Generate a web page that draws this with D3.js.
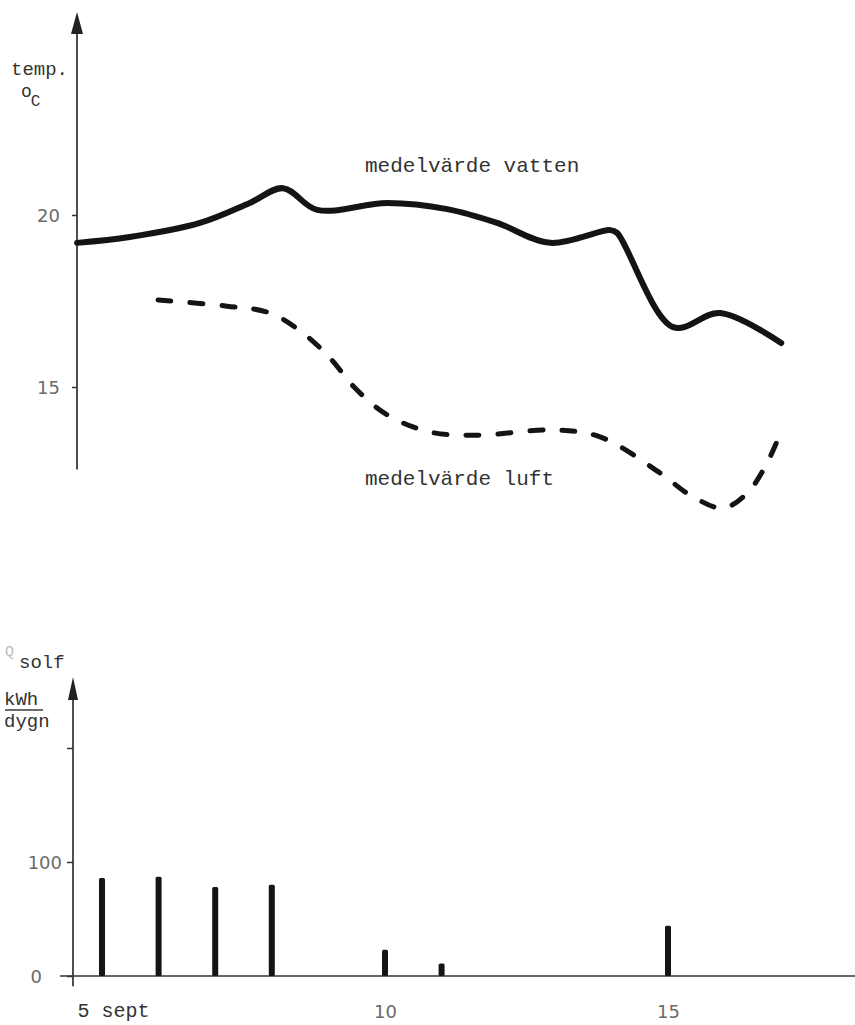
<!DOCTYPE html>
<html>
<head>
<meta charset="utf-8">
<script src="https://cdn.jsdelivr.net/npm/d3@7/dist/d3.min.js"></script>
<style>
  html, body { margin: 0; padding: 0; background: #ffffff; }
  svg { display: block; }
  .tw { font-family: "Liberation Mono", "DejaVu Sans Mono", monospace; fill: #333; }
  .num { font-family: "DejaVu Sans", sans-serif; fill: #6a6a6a; }
</style>
</head>
<body>
<svg id="chart" width="855" height="1025"></svg>
<script>
// ---- data ----
// water mean temperature (day of September, °C)
const waterDays  = [4.56, 5.49, 6.73, 7.61, 8.2, 8.8, 10.04, 11.1, 11.98, 12.92, 13.98, 14.1, 15.09, 15.92, 17.0];
const waterTemps = [19.19, 19.36, 19.77, 20.35, 20.78, 20.15, 20.35, 20.17, 19.77, 19.19, 19.56, 19.48, 16.74, 17.15, 16.28];
// air mean temperature
const airDays  = [5.99, 7.21, 7.97, 8.55, 9.03, 9.47, 10.04, 10.8, 11.63, 12.97, 13.8, 14.86, 15.39, 15.97, 16.4, 16.75, 17.03];
const airTemps = [17.53, 17.35, 17.15, 16.57, 15.84, 14.97, 14.19, 13.69, 13.6, 13.75, 13.55, 12.5, 11.86, 11.48, 11.92, 12.79, 13.84];
// solar radiation kWh per day
const sunDays   = [5, 6, 7, 8, 10, 11, 15];
const sunValues = [86, 87, 78, 80, 23, 11, 44];
// tick labels
const tempTicks = [15, 20];
const sunTicks = [0, 100, 200];
const sunTickLabels = ["0", "100", ""];
const dayTicks = [5, 10, 15];
const dayTickLabels = ["5 sept", "10", "15"];
const seriesLabels = ["medelvärde vatten", "medelvärde luft"];

const svg = d3.select("#chart");

// ---- scales ----
const x = d3.scaleLinear().domain([5, 15]).range([102, 668]);
const yT = d3.scaleLinear().domain([15, 20]).range([387, 215]);
const yS = d3.scaleLinear().domain([0, 100]).range([976, 862]);

const axisXTop = 77;
const axisXBot = 73;

// ---- top chart axis ----
const gTop = svg.append("g");
gTop.append("line")
  .attr("x1", axisXTop).attr("x2", axisXTop)
  .attr("y1", yT(12.6)).attr("y2", 30)
  .attr("stroke", "#222").attr("stroke-width", 1.6);
gTop.append("path")
  .attr("d", `M${axisXTop},12 L${axisXTop - 6},34 L${axisXTop + 6},34 Z`)
  .attr("fill", "#222");
const yAxisTop = d3.axisLeft(yT).tickValues(tempTicks).tickSize(5).tickPadding(12)
  .tickFormat(d3.format("d"));
const gyT = gTop.append("g").attr("transform", `translate(${axisXTop},0)`).call(yAxisTop);
gyT.select(".domain").remove();
gyT.selectAll(".tick line").attr("stroke", "#333").attr("stroke-width", 1.5);
gyT.selectAll(".tick text").attr("class", "num").attr("font-size", 18).attr("dy", "0.35em");

// top axis title
gTop.append("text").attr("class", "tw").attr("x", 11).attr("y", 75)
  .attr("font-size", 19).text("temp.");
const oc = gTop.append("text").attr("class", "tw").attr("x", 21).attr("y", 97).attr("font-size", 18);
oc.append("tspan").text("o");
oc.append("tspan").attr("dy", 9).attr("font-size", 16).attr("dx", -1).text("C");

// ---- lines ----
const line = d3.line()
  .x(d => x(d[0])).y(d => yT(d[1]))
  .curve(d3.curveCatmullRom.alpha(0.5));

const waterData = waterDays.map((d, i) => [d, waterTemps[i]]);
const airData = airDays.map((d, i) => [d, airTemps[i]]);

gTop.append("path").datum(waterData)
  .attr("d", line)
  .attr("fill", "none").attr("stroke", "#141414")
  .attr("stroke-width", 6).attr("stroke-linecap", "round").attr("stroke-linejoin", "round");

gTop.append("path").datum(airData)
  .attr("d", line)
  .attr("fill", "none").attr("stroke", "#141414")
  .attr("stroke-width", 5).attr("stroke-linecap", "round")
  .attr("stroke-dasharray", "13,19");

// series labels
gTop.append("text").attr("class", "tw").attr("x", 365).attr("y", 172)
  .attr("font-size", 21).text(seriesLabels[0]);
gTop.append("text").attr("class", "tw").attr("x", 365).attr("y", 485)
  .attr("font-size", 21).text(seriesLabels[1]);

// ---- bottom chart ----
const gBot = svg.append("g");
gBot.append("line")
  .attr("x1", axisXBot).attr("x2", axisXBot)
  .attr("y1", yS(-9)).attr("y2", 695)
  .attr("stroke", "#222").attr("stroke-width", 1.6);
gBot.append("path")
  .attr("d", `M${axisXBot},677 L${axisXBot - 5},700 L${axisXBot + 5},700 Z`)
  .attr("fill", "#222");

// x baseline
gBot.append("line")
  .attr("x1", 60).attr("x2", 855)
  .attr("y1", yS(0)).attr("y2", yS(0))
  .attr("stroke", "#333").attr("stroke-width", 1.6);

const yAxisBot = d3.axisLeft(yS).tickValues(sunTicks).tickSize(6).tickPadding(5)
  .tickFormat((d, i) => sunTickLabels[i]);
const gyS = gBot.append("g").attr("transform", `translate(${axisXBot},0)`).call(yAxisBot);
gyS.select(".domain").remove();
gyS.selectAll(".tick line").attr("stroke", "#333").attr("stroke-width", 1.5);
gyS.selectAll(".tick text").attr("class", "num").attr("font-size", 18).attr("dy", "0.35em");
gyS.selectAll(".tick").filter(d => d === 0).select("text").attr("dx", -20);

// x tick labels
const xAxisBot = d3.axisBottom(x).tickValues(dayTicks).tickSize(0).tickPadding(29)
  .tickFormat((d, i) => dayTickLabels[i]);
const gxS = gBot.append("g").attr("transform", `translate(0,${yS(0)})`).call(xAxisBot);
gxS.select(".domain").remove();
gxS.selectAll(".tick text").attr("class", "num").attr("font-size", 18);
gxS.selectAll(".tick").filter(d => d === 5).select("text")
  .attr("class", "tw").attr("font-size", 20).attr("fill", "#333")
  .attr("text-anchor", "start").attr("x", -25).attr("dy", "0.62em");

// bars
gBot.selectAll("rect.bar")
  .data(sunDays.map((d, i) => [d, sunValues[i]]))
  .enter().append("rect").attr("class", "bar")
  .attr("x", d => x(d[0]) - 3)
  .attr("width", 6)
  .attr("y", d => yS(d[1]))
  .attr("height", d => yS(0) - yS(d[1]))
  .attr("rx", 1.5)
  .attr("fill", "#141414");

// bottom axis title
const q = gBot.append("text").attr("class", "tw").attr("x", 5).attr("y", 656).attr("font-size", 15).attr("fill-opacity", 0.35);
q.text("Q");
gBot.append("text").attr("class", "tw").attr("x", 19).attr("y", 668).attr("font-size", 19).text("solf");
gBot.append("text").attr("class", "tw").attr("x", 4).attr("y", 705).attr("font-size", 19).text("kWh");
gBot.append("line").attr("x1", 5).attr("x2", 43).attr("y1", 710).attr("y2", 710)
  .attr("stroke", "#3a3a3a").attr("stroke-width", 1.6);
gBot.append("text").attr("class", "tw").attr("x", 4).attr("y", 727).attr("font-size", 19).text("dygn");
</script>
</body>
</html>
